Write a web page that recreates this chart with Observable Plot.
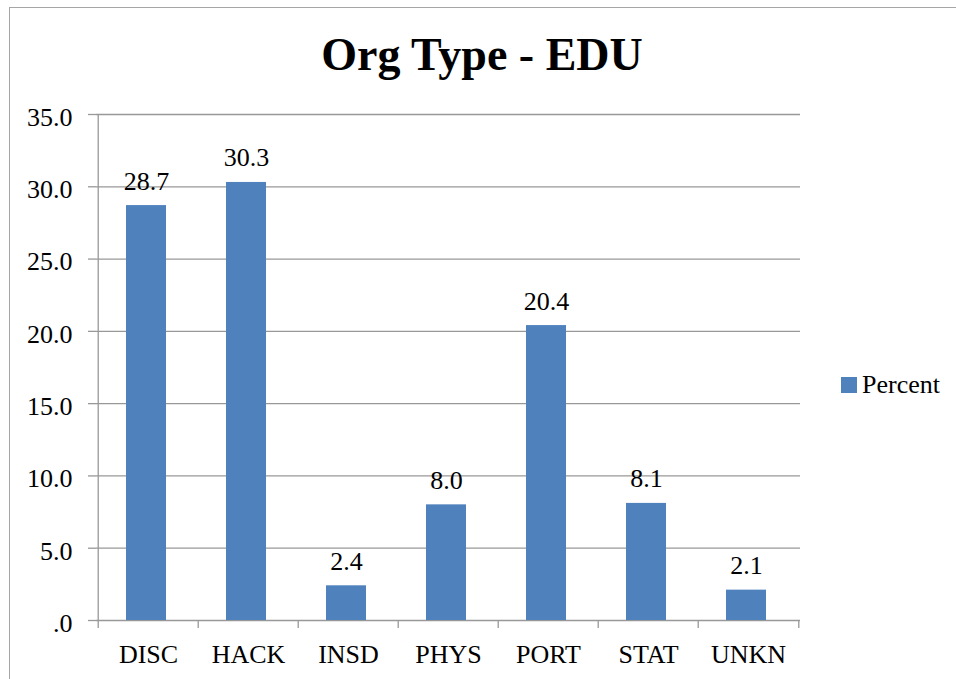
<!DOCTYPE html>
<html><head><meta charset="utf-8">
<script src="https://cdn.jsdelivr.net/npm/d3@7"></script>
<script src="https://cdn.jsdelivr.net/npm/@observablehq/plot@0.6"></script>
<style>
body{margin:0;background:#fff;font-family:"Liberation Serif","Times New Roman",serif;font-size:26px;}
#wrap{position:relative;width:956px;height:679px;overflow:hidden;background:#fff;}
#border{position:absolute;left:9px;top:7px;width:1000px;height:1000px;border:1px solid #a6a6a6;box-sizing:border-box;}
#chart{position:absolute;left:0;top:0;}
#title{position:absolute;left:0;top:50.2px;width:964px;text-align:center;font-size:26px;line-height:26px;font-weight:bold;color:#000;white-space:nowrap;transform:scale(1.7692);transform-origin:482px 21.8px;}
#legend-swatch{position:absolute;left:841px;top:377px;width:16px;height:16px;background:#4F81BD;}
#legend-label{position:absolute;left:862px;top:372px;font-size:26px;line-height:26px;color:#000;white-space:nowrap;}
#sp{position:absolute;left:930px;top:20px;font-family:"DejaVu Sans Mono",monospace;font-size:11px;color:#fff;}
</style></head><body>
<div id="wrap"><div id="border"></div><div id="chart"></div><div id="title"></div><div id="legend-swatch"></div><div id="legend-label"></div><div id="sp">&nbsp;</div></div>
<script>
const categories = ["DISC","HACK","INSD","PHYS","PORT","STAT","UNKN"];
const percent = [28.7,30.3,2.4,8.0,20.4,8.1,2.1];
const yTicks = [0,5,10,15,20,25,30,35];
const yTickLabels = [".0","5.0","10.0","15.0","20.0","25.0","30.0","35.0"];
const seriesName = "Percent";
const title = "Org Type - EDU";

const data = categories.map((c,i)=>({category:c, value:percent[i]}));
const W=956, H=679, ML=96, MR=156, MT=114, MB=59;
const step = (W-ML-MR)/categories.length;
const blue="#4F81BD", grid="#989898";
const font="Liberation Serif";

document.getElementById("title").textContent = title;
document.getElementById("legend-label").textContent = seriesName;

const plot = Plot.plot({
  width:W, height:H, marginLeft:ML, marginRight:MR, marginTop:MT, marginBottom:MB,
  style:{fontFamily:font, fontSize:"26px", color:"black", background:"transparent", overflow:"visible"},
  x:{domain:categories, paddingInner:0.6, paddingOuter:0.3, label:null, axis:null},
  y:{domain:[0,35], label:null, axis:null},
  marks:[
    Plot.ruleY(yTicks,{stroke:grid, strokeWidth:1.3}),
    Plot.barY(data,{x:"category", y:"value", fill:blue, dx:-2}),
    Plot.ruleX([categories[0]],{x:d=>d, dx:-step/2, y1:0, y2:35, stroke:grid, strokeWidth:1.3}),
    Plot.axisX({tickSize:8, dx:-step/2, stroke:grid, strokeWidth:1.3, tickFormat:()=>"", label:null}),
    Plot.axisX({ticks:[categories[categories.length-1]], tickSize:8, dx:step/2, stroke:grid, strokeWidth:1.3, tickFormat:()=>"", label:null}),
    Plot.axisY({ticks:yTicks, tickSize:8, stroke:grid, strokeWidth:1.3, tickFormat:()=>"", label:null}),
    Plot.axisY({ticks:yTicks, tickSize:0, tickPadding:24, dy:3, fill:"black", tickFormat:(d)=>yTickLabels[yTicks.indexOf(d)], fontSize:26, fontFamily:font, label:null}),
    Plot.axisX({tickSize:0, tickPadding:24, fill:"black", fontSize:26, fontFamily:font, label:null}),
    Plot.text(data,{x:"category", y:"value", text:d=>d.value.toFixed(1), lineAnchor:"bottom", dx:-2, dy:-16, fontSize:26, fontFamily:font, fill:"black"})
  ]
});
document.getElementById("chart").appendChild(plot);
</script>
</body></html>
